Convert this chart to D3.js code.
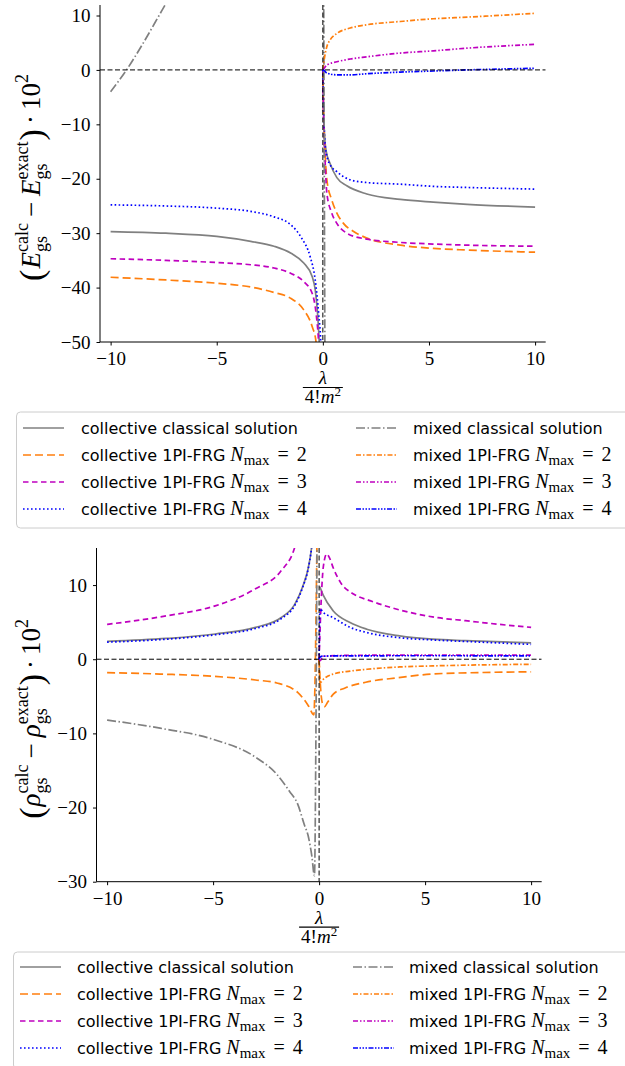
<!DOCTYPE html>
<html>
<head>
<meta charset="utf-8">
<script src="https://cdn.jsdelivr.net/npm/d3@7"></script>
<style>
  body { margin: 0; background: #fff; }
  svg { display: block; }
</style>
</head>
<body>
<div id="chart"></div>
<script>
// values, each series is a list of segments of [lambda, value] pairs

var xTicks = [-10, -5, 0, 5, 10];
var eYTicks = [10, 0, -10, -20, -30, -40, -50];
var rhoYTicks = [10, 0, -10, -20, -30];

var legendLeft = ["collective classical solution", "collective 1PI-FRG", "collective 1PI-FRG", "collective 1PI-FRG"];
var legendRight = ["mixed classical solution", "mixed 1PI-FRG", "mixed 1PI-FRG", "mixed 1PI-FRG"];
var legendN = [null, 2, 3, 4];

// ---- energy panel ----
var eCollClassical = [
  [[-10,-29.7],[-7.4,-30.0],[-5,-30.6],[-3.4,-31.5],[-2.3,-32.4],[-1.5,-33.7],[-0.9,-35.5],[-0.5,-38.0],[-0.36,-40.4],[-0.25,-44.7],[-0.17,-50],[-0.1,-58]],
  [[0,0],[0.03,-7],[0.08,-12],[0.15,-14.8],[0.34,-17.2],[0.66,-19.8],[1.13,-21.3],[2.07,-22.8],[3.65,-23.8],[5.2,-24.3],[6.8,-24.7],[10,-25.2]]
];
var eColl2 = [
  [[-10,-38.1],[-7.4,-38.6],[-5,-39.2],[-3.4,-39.9],[-2.3,-40.9],[-1.5,-42],[-0.9,-44.1],[-0.5,-47.2],[-0.32,-50],[-0.22,-56]],
  [[0,0],[0.02,-5],[0.06,-11],[0.12,-16.5],[0.19,-20.2],[0.42,-23.9],[0.66,-26.3],[0.97,-28.2],[1.45,-29.7],[2.07,-30.9],[3.65,-32.2],[5.2,-32.8],[6.8,-33.1],[10,-33.5]]
];
var eColl3 = [
  [[-10,-34.7],[-7.4,-35.0],[-5,-35.4],[-3.4,-35.8],[-2.3,-36.4],[-1.5,-37.4],[-0.9,-38.9],[-0.5,-41.1],[-0.32,-44.7],[-0.2,-50],[-0.13,-56]],
  [[0,0],[0.02,-5.5],[0.06,-12],[0.12,-18],[0.19,-22.7],[0.42,-26.3],[0.66,-28.2],[1.13,-30],[2.07,-31.1],[3.65,-31.7],[5.2,-32],[6.8,-32.2],[10,-32.4]]
];
var eColl4 = [
  [[-10,-24.8],[-7.4,-25.0],[-5,-25.4],[-3.4,-26],[-2.3,-27],[-1.5,-28.5],[-1.0,-30.9],[-0.6,-34.3],[-0.36,-38.6],[-0.2,-44.7],[-0.1,-50],[-0.05,-56]],
  [[0,0],[0.03,-6],[0.1,-13.4],[0.2,-16],[0.34,-17.4],[0.66,-18.7],[1.29,-20.2],[2.07,-20.7],[3.65,-21.0],[5.2,-21.4],[6.8,-21.6],[10,-21.9]]
];
var eMixClassical = [
  [[-10,-4],[-9.25,0],[-8.5,4.7],[-7.6,10.8],[-7.2,13.5]],
  [[0.04,14],[0.1,-56]]
];
var eMix2 = [[[0,0],[0.06,1.8],[0.19,4.3],[0.34,5.5],[0.66,6.7],[1.29,7.7],[2.07,8.3],[3.65,8.9],[5.2,9.4],[6.8,9.7],[10,10.4]]];
var eMix3 = [[[0,0],[0.06,0.3],[0.19,0.9],[0.66,1.5],[1.29,2.0],[2.07,2.4],[3.65,3.1],[5.2,3.5],[6.8,4.0],[10,4.7]]];
var eMix4 = [[[0,0],[0.06,-0.1],[0.19,-0.6],[0.66,-0.9],[1.29,-0.9],[2.07,-0.7],[3.65,-0.4],[5.2,-0.2],[6.8,0],[10,0.3]]];

// ---- density panel ----
var rhoCollClassical = [
  [[-10,2.4],[-7.2,2.8],[-4.9,3.4],[-3,4.3],[-1.8,5.6],[-1.15,7.4],[-0.76,9.9],[-0.52,12.2],[-0.36,14.9],[-0.25,18]],
  [[0.03,9.8],[0.2,8.6],[0.67,6.5],[1.46,4.95],[2.25,4.05],[3.8,3.15],[5.35,2.7],[6.9,2.5],[10,2.2]]
];
var rhoColl2 = [
  [[-10,-1.8],[-7.5,-2.0],[-5,-2.3],[-3,-2.8],[-2,-3.2],[-1,-4.5],[-0.5,-6.3],[-0.25,-7.5],[-0.1,16]],
  [[0,0],[0.05,-3],[0.15,-5.9],[0.25,-6.4],[0.4,-5.8],[0.67,-4.7],[1.2,-3.9],[2.2,-3.1],[3.7,-2.5],[5.3,-2.0],[7.5,-1.8],[10,-1.7]]
];
var rhoColl3 = [
  [[-10,4.7],[-7.2,5.85],[-4.9,7.2],[-3,9.5],[-1.8,11.9],[-1.15,15.1],[-0.9,18]],
  [[0,0],[0.1,8],[0.2,12.5],[0.36,14.2],[0.5,13.6],[0.67,12.3],[1.0,10.4],[1.62,8.8],[2.4,7.9],[3.35,7.0],[4.3,6.3],[5.6,5.6],[6.9,5.2],[8.5,4.7],[10,4.3]]
];
var rhoColl4 = [
  [[-10,2.3],[-7.2,2.7],[-4.9,3.3],[-3,4.15],[-1.8,5.45],[-1.15,7.25],[-0.76,9.8],[-0.52,12.1],[-0.36,14.9],[-0.25,18]],
  [[0,0],[0.04,6.8],[0.2,6.3],[0.67,5.6],[1.46,4.3],[2.25,3.6],[3.8,2.9],[5.35,2.6],[6.9,2.4],[10,2.0]]
];
var rhoMixClassical = [
  [[-10,-8.2],[-7.5,-9.3],[-5,-10.8],[-3,-13.2],[-2,-15.5],[-1.4,-17.8],[-1,-19.6],[-0.7,-22.3],[-0.5,-24],[-0.34,-26.6],[-0.22,-29.2],[-0.15,-10],[-0.1,16]]
];
var rhoMix2 = [[[0,0],[0.04,-3.2],[0.2,-2.7],[0.4,-2.3],[0.67,-2.0],[1.46,-1.6],[2.25,-1.35],[3.8,-1.04],[5.35,-0.9],[6.9,-0.8],[10,-0.68]]];
var rhoMix3 = [[[0,0],[0.05,-0.2],[0.2,0.4],[1,0.5],[3,0.55],[10,0.55]]];
var rhoMix4 = [[[0,0],[0.05,0.3],[0.2,0.42],[1,0.45],[5,0.47],[10,0.45]]];

var SERIF = "'Liberation Serif', 'DejaVu Serif', serif";
var SANS = "'DejaVu Sans', 'Liberation Sans', sans-serif";

// line styles, same order as the legend
var styles = [
  {color: "#808080", dash: null},                 // collective classical
  {color: "#ff7f0e", dash: "8,4"},                // collective N=2
  {color: "#bf00bf", dash: "5.5,3.5"},            // collective N=3
  {color: "#0000ff", dash: "1.6,2.4"},            // collective N=4
  {color: "#808080", dash: "9,2.5,1.5,2.5"},      // mixed classical
  {color: "#ff7f0e", dash: "5,2,1.5,2"},          // mixed N=2
  {color: "#bf00bf", dash: "5,2,1.5,2,1.5,2"},    // mixed N=3
  {color: "#0000ff", dash: "5,1.5,1.5,1.5,1.5,1.5,1.5,1.5"} // mixed N=4
];

var svg = d3.select("#chart")
  .append("svg")
  .attr("width", 625)
  .attr("height", 1066);

// lay out pieces of a formula one after another, return the group and its width
function mathText(parent, parts) {
  var g = parent.append("g");
  var cx = 0, lastStart = 0;
  parts.forEach(function(p) {
    var start = p.stack ? lastStart : cx + (p.gap || 0);
    var t = g.append("text")
      .attr("x", start)
      .attr("y", p.dy || 0)
      .attr("font-family", p.sans ? SANS : SERIF)
      .attr("font-size", p.s)
      .attr("font-style", p.i ? "italic" : "normal")
      .attr("fill", "#000")
      .text(p.t);
    var w = t.node().getComputedTextLength();
    lastStart = start;
    cx = Math.max(cx, start + w);
  });
  return {g: g, w: cx};
}

function drawPanel(cfg) {
  var x = d3.scaleLinear().domain([-10.5, 10.5]).range([cfg.left, cfg.right]);
  var y = d3.scaleLinear().domain(cfg.yDomain).range([cfg.bottom, cfg.top]);

  svg.append("clipPath").attr("id", cfg.id)
    .append("rect")
    .attr("x", cfg.left).attr("y", cfg.top)
    .attr("width", cfg.right - cfg.left).attr("height", cfg.bottom - cfg.top);

  var plot = svg.append("g").attr("clip-path", "url(#" + cfg.id + ")");

  var line = d3.line()
    .x(d => x(d[0]))
    .y(d => y(d[1]))
    .curve(d3.curveMonotoneX);

  cfg.series.forEach(function(segs, i) {
    segs.forEach(function(seg) {
      plot.append("path")
        .attr("d", line(seg))
        .attr("fill", "none")
        .attr("stroke", styles[i].color)
        .attr("stroke-width", 1.7)
        .attr("stroke-dasharray", styles[i].dash);
    });
  });

  // zero lines
  plot.append("line")
    .attr("x1", cfg.left).attr("x2", cfg.right)
    .attr("y1", y(0)).attr("y2", y(0))
    .attr("stroke", "#000").attr("stroke-width", 1)
    .attr("stroke-dasharray", "5,2.5");
  plot.append("line")
    .attr("x1", x(0)).attr("x2", x(0))
    .attr("y1", cfg.top).attr("y2", cfg.bottom)
    .attr("stroke", "#000").attr("stroke-width", 1)
    .attr("stroke-dasharray", "5,2.5");

  // axes
  var bottomAxis = d3.axisBottom(x).tickValues(xTicks).tickSize(3.5).tickPadding(6)
    .tickFormat(d => d < 0 ? "\u2212" + Math.abs(d) : d);
  var leftAxis = d3.axisLeft(y).tickValues(cfg.yTicks).tickSize(3.5).tickPadding(6)
    .tickFormat(d => d < 0 ? "\u2212" + Math.abs(d) : d);

  var gx = svg.append("g")
    .attr("transform", `translate(0, ${cfg.bottom})`)
    .call(bottomAxis);
  var gy = svg.append("g")
    .attr("transform", `translate(${cfg.left}, 0)`)
    .call(leftAxis);

  [gx, gy].forEach(function(g) {
    g.select(".domain").attr("stroke", "#000").attr("stroke-width", 1);
    g.selectAll(".tick line").attr("stroke", "#000");
    g.selectAll(".tick text")
      .attr("font-family", SERIF)
      .attr("font-size", 19)
      .attr("fill", "#000");
  });
  gx.select(".domain").attr("d", `M${cfg.left},0H${cfg.right}`);
  gy.select(".domain").attr("d", `M0,${cfg.top}V${cfg.bottom}`);

  // x label: lambda over 4!m^2
  var cxl = x(0);
  var num = mathText(svg, [{t: "\u03bb", s: 19, i: 1}]);
  num.g.attr("transform", `translate(${cxl - num.w / 2}, ${cfg.bottom + 42})`);
  svg.append("line")
    .attr("x1", cxl - 20).attr("x2", cxl + 20)
    .attr("y1", cfg.bottom + 45.5).attr("y2", cfg.bottom + 45.5)
    .attr("stroke", "#000").attr("stroke-width", 1.2);
  var den = mathText(svg, [{t: "4!", s: 19}, {t: "m", s: 19, i: 1}, {t: "2", s: 13, dy: -7}]);
  den.g.attr("transform", `translate(${cxl - den.w / 2}, ${cfg.bottom + 61})`);

  // y label
  var sym = cfg.sym;
  var lab = mathText(svg, [
    {t: "(", s: 34, dy: 3},
    {t: sym, s: 27, i: 1, gap: 1},
    {t: "gs", s: 18, dy: 7},
    {t: "calc", s: 18, dy: -12, stack: 1},
    {t: "\u2212", s: 27, gap: 6},
    {t: sym, s: 27, i: 1, gap: 6},
    {t: "gs", s: 18, dy: 7},
    {t: "exact", s: 18, dy: -12, stack: 1},
    {t: ")", s: 34, dy: 3, gap: 1},
    {t: "\u00b7", s: 27, gap: 5},
    {t: "10", s: 27, gap: 5},
    {t: "2", s: 18, dy: -12}
  ]);
  var midY = (cfg.top + cfg.bottom) / 2 + cfg.labShift;
  lab.g.attr("transform", `translate(${cfg.labX}, ${midY + lab.w / 2}) rotate(-90)`);
}

function drawLegend(lg) {
  svg.append("rect")
    .attr("x", lg.x).attr("y", lg.y)
    .attr("width", 640 - lg.x).attr("height", lg.h)
    .attr("rx", 4)
    .attr("fill", "#fff")
    .attr("stroke", "#cccccc")
    .attr("stroke-width", 1);

  for (var r = 0; r < 4; r++) {
    var yy = lg.row0 + r * lg.step;
    [0, 1].forEach(function(c) {
      var st = styles[c * 4 + r];
      var hx = c === 0 ? lg.h1 : lg.h2;
      var tx = c === 0 ? lg.t1 : lg.t2;
      svg.append("line")
        .attr("x1", hx).attr("x2", hx + 41)
        .attr("y1", yy).attr("y2", yy)
        .attr("stroke", st.color).attr("stroke-width", 1.7)
        .attr("stroke-dasharray", st.dash);
      var label = c === 0 ? legendLeft[r] : legendRight[r];
      var parts = [{t: label, s: 16, sans: 1}];
      if (legendN[r] !== null) {
        parts.push({t: "N", s: 20, i: 1, gap: 5});
        parts.push({t: "max", s: 15, dy: 4});
        parts.push({t: "=", s: 20, gap: 8});
        parts.push({t: String(legendN[r]), s: 20, gap: 8});
      }
      var m = mathText(svg, parts);
      m.g.attr("transform", `translate(${tx}, ${yy + 6})`);
    });
  }
}

drawPanel({
  id: "clipE", left: 100, right: 545.7, top: 5, bottom: 342,
  yDomain: [-50, 11.93], yTicks: eYTicks, sym: "E", labX: 40, labShift: 4,
  series: [eCollClassical, eColl2, eColl3, eColl4, eMixClassical, eMix2, eMix3, eMix4]
});
drawPanel({
  id: "clipRho", left: 96.5, right: 541.7, top: 548, bottom: 881.7,
  yDomain: [-30, 15], yTicks: rhoYTicks, sym: "\u03c1", labX: 40, labShift: 4,
  series: [rhoCollClassical, rhoColl2, rhoColl3, rhoColl4, rhoMixClassical, rhoMix2, rhoMix3, rhoMix4]
});

drawLegend({x: 16.5, y: 412, h: 116, row0: 428, step: 27, h1: 23, t1: 81, h2: 356, t2: 413});
drawLegend({x: 13.5, y: 952, h: 117, row0: 967, step: 27, h1: 20, t1: 77, h2: 353, t2: 409});
</script>
</body>
</html>
